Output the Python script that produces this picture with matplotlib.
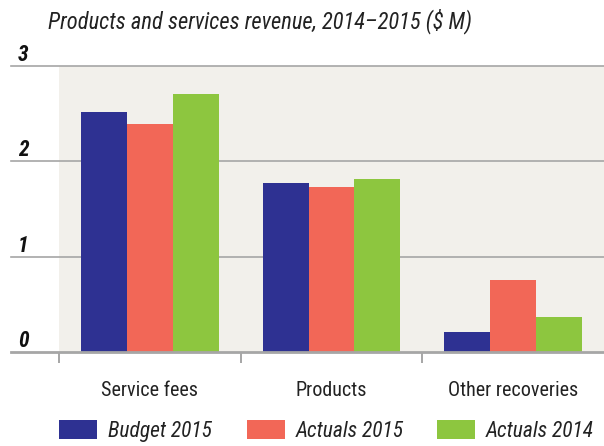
import matplotlib
matplotlib.use("Agg")
import matplotlib.pyplot as plt
from matplotlib import font_manager
import numpy as np

# data
categories = ["Service fees", "Products", "Other recoveries"]
series_names = ["Budget 2015", "Actuals 2015", "Actuals 2014"]
budget_2015 = [2.51, 1.77, 0.21]
actuals_2015 = [2.39, 1.73, 0.75]
actuals_2014 = [2.70, 1.81, 0.37]
y_ticks = [0, 1, 2, 3]

colors = ["#2e3192", "#f26757", "#8dc63f"]
grid_col = "#a6a6a6"
bg_col = "#f2f0eb"

# pick a narrow face if one is around
fonts = font_manager.fontManager.ttflist
names = {f.name for f in fonts}
fam, stretch = "DejaVu Sans", "normal"
for cand in ["Liberation Sans Narrow", "Roboto Condensed", "Open Sans Condensed"]:
    if cand in names:
        fam = cand
        break
else:
    if any(f.name == "DejaVu Sans" and f.stretch == "condensed" for f in fonts):
        stretch = "condensed"
plt.rcParams["font.family"] = [fam, "DejaVu Sans"]
plt.rcParams["font.stretch"] = stretch

fig = plt.figure(figsize=(6.04, 4.46), dpi=100)
ax = fig.add_axes([59 / 604, 94 / 446, 545 / 604, 286.3 / 446])
ax.set_facecolor(bg_col)
for s in ax.spines.values():
    s.set_visible(False)

x = np.arange(len(categories))
w = 0.253
bars = []
for i, vals in enumerate([budget_2015, actuals_2015, actuals_2014]):
    bars.append(ax.bar(x + (i - 1) * w, vals, w, color=colors[i], zorder=3,
                       label=series_names[i]))

ax.set_xlim(-0.5, 2.5)
ax.set_ylim(0, 3)

# gridlines running out to the left of the plot area
for v in y_ticks:
    ax.axhline(v, xmin=-0.088, xmax=1, color=grid_col,
               lw=2.0 if v == 0 else 1.2, clip_on=False,
               zorder=4 if v == 0 else 1)
    ax.text(-0.066, v, str(v), transform=ax.get_yaxis_transform(),
            ha="center", va="bottom", fontsize=15.5, fontweight="bold",
            style="italic", color="#111111")

ax.set_yticks([])
ax.set_xticks(x)
ax.set_xticklabels(categories, fontsize=14.5, color="#222222")
ax.tick_params(axis="x", which="major", length=0, pad=21)
ax.set_xticks([-0.5, 0.5, 1.5], minor=True)
ax.tick_params(axis="x", which="minor", length=8, width=1.4,
               color=grid_col, direction="out")

# title, sized to span the same width as the reference
title = fig.text(48 / 604, 1 - 28 / 446,
                 "Products and services revenue, 2014\u20132015 ($ M)",
                 fontsize=18, style="italic", color="#222222", va="baseline")
r = fig.canvas.get_renderer()
tw = title.get_window_extent(r).width
title.set_fontsize(18 * 425 / tw)

# legend, one entry per series at the reference positions
lx = [59, 247, 437]
for i in range(3):
    fig.legend([bars[i]], [series_names[i]], loc="lower left",
               bbox_to_anchor=(lx[i] / 604, 4 / 446), frameon=False,
               handlelength=1.77, handleheight=1.02, handletextpad=0.5,
               borderpad=0, borderaxespad=0,
               prop={"size": 15.5, "style": "italic"},
               labelcolor="#222222")

fig.savefig("out.png", dpi=100)
